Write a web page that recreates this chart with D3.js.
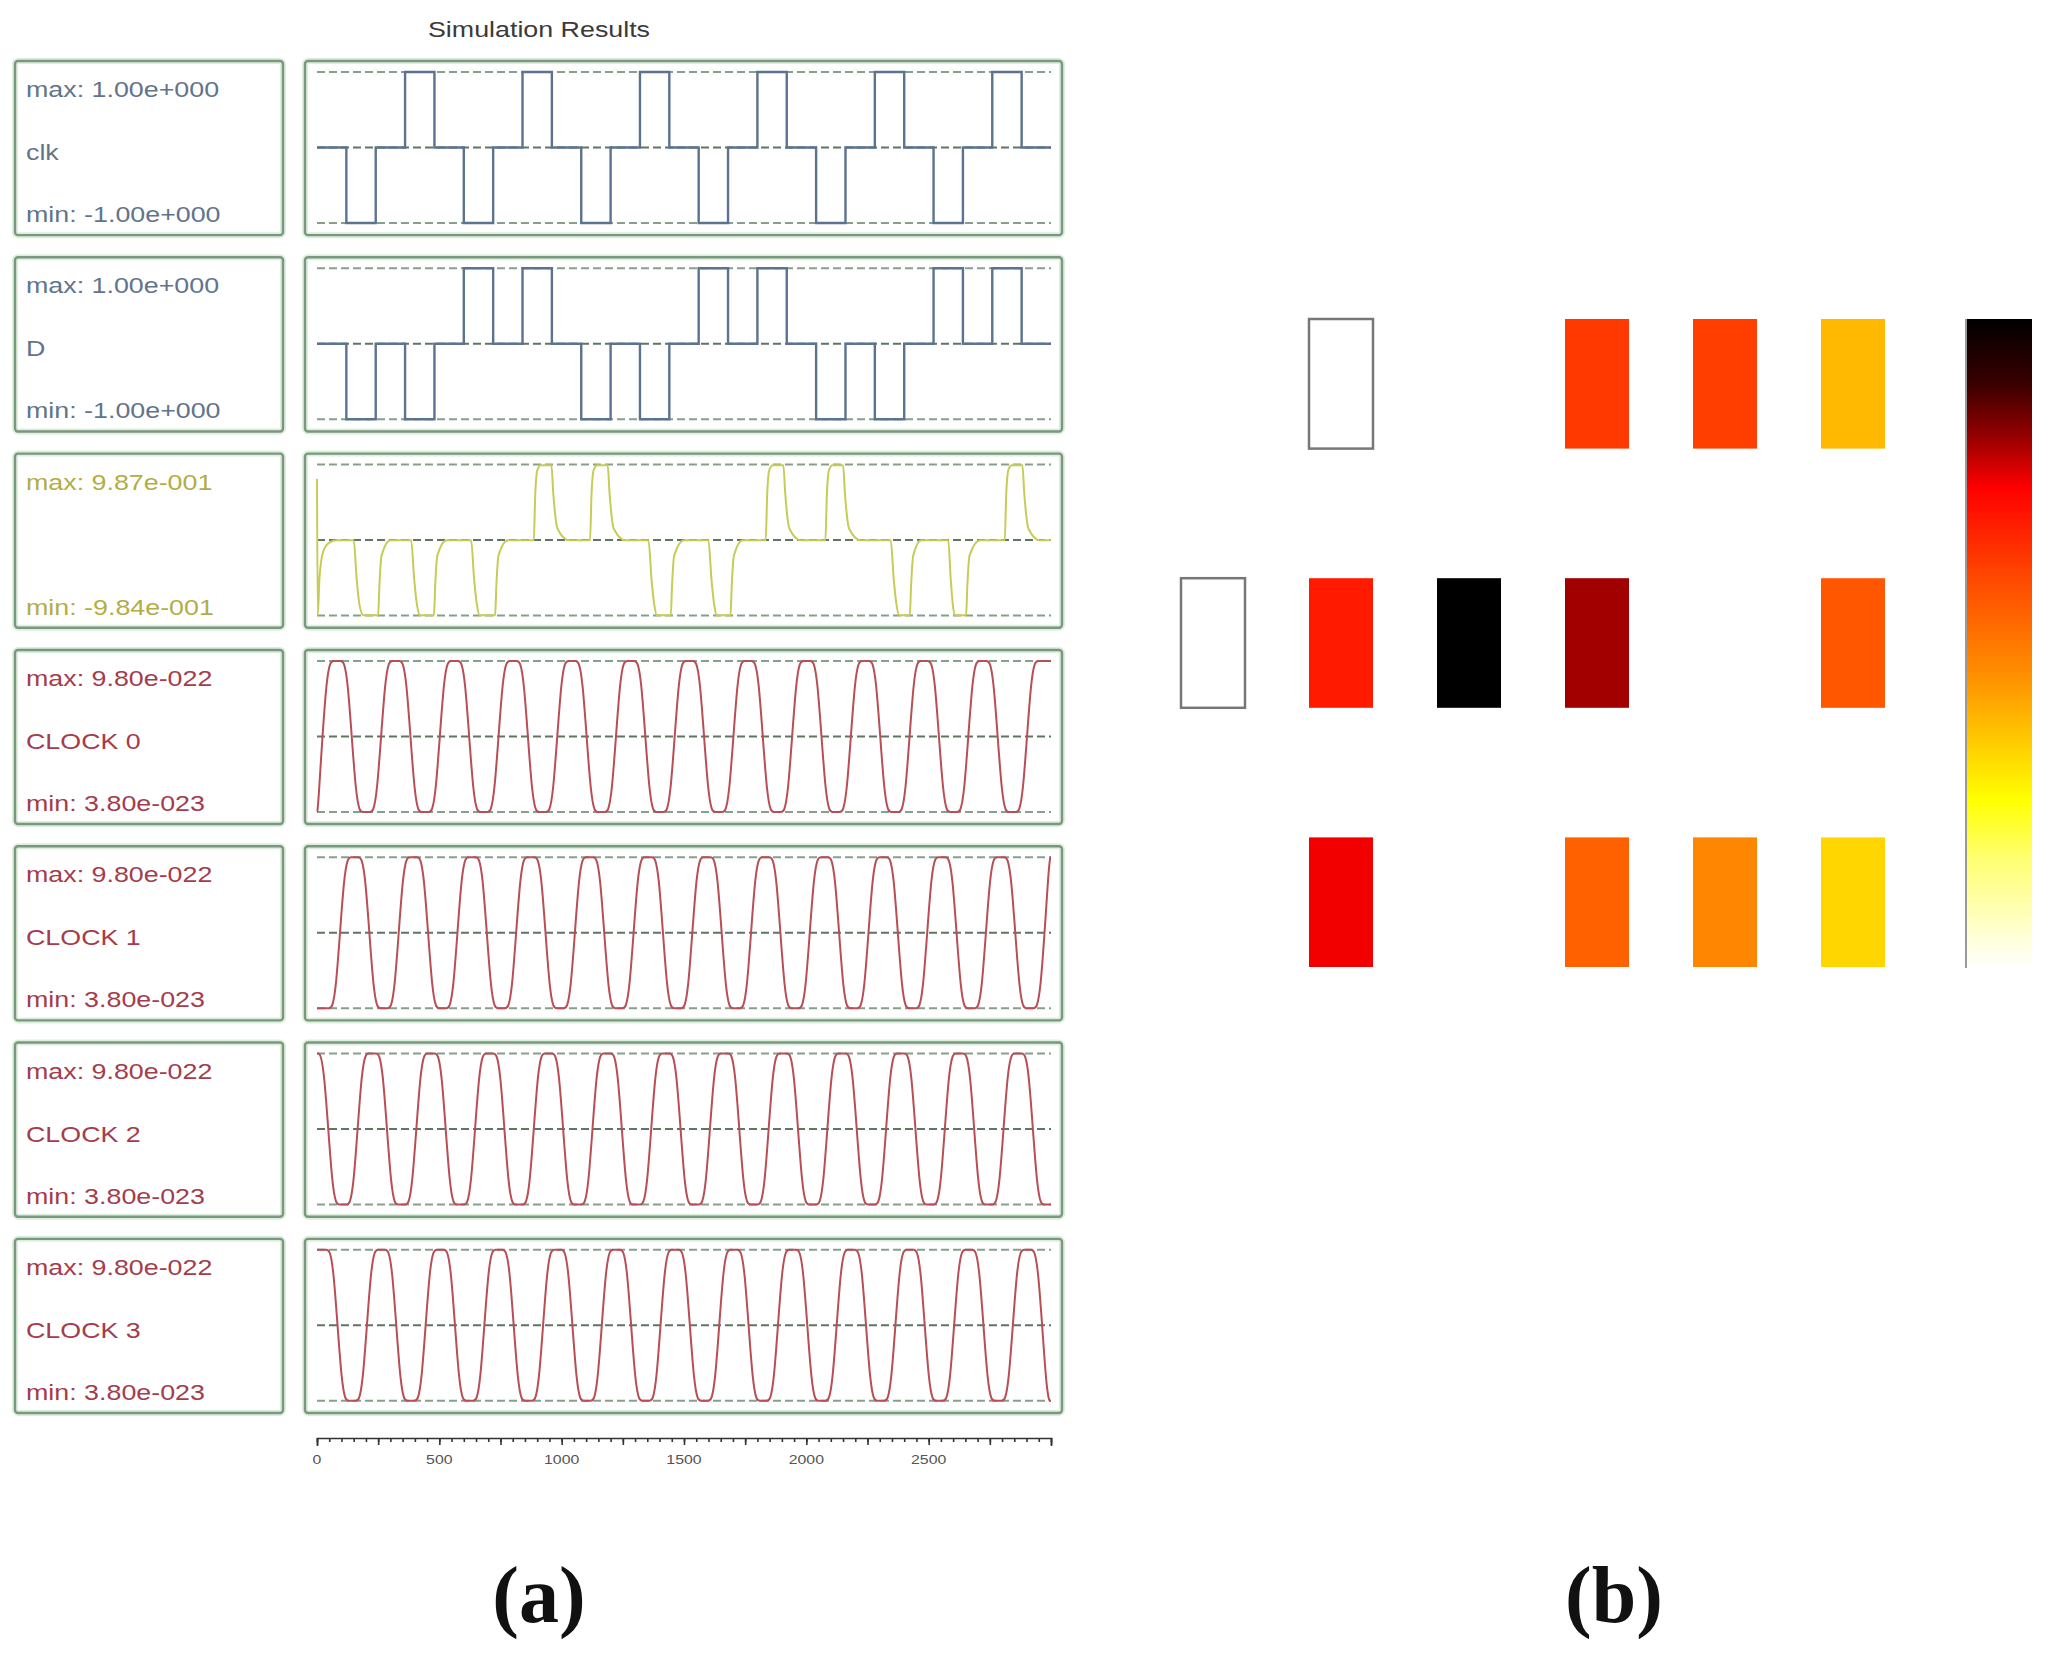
<!DOCTYPE html>
<html>
<head>
<meta charset="utf-8">
<script src="https://cdn.jsdelivr.net/npm/d3@7"></script>
<style>
  body { margin: 0; background: #fff; }
</style>
</head>
<body>
<div id="chart"></div>
<script>
// ---- data ----
// time axis (simulation steps)
const timeDomain = [0, 3000]
const timeTicks = [0, 500, 1000, 1500, 2000, 2500]

// one row per trace
const panelNames = ['clk', 'D', '', 'CLOCK 0', 'CLOCK 1', 'CLOCK 2', 'CLOCK 3']
const panelMaxText = ['max: 1.00e+000', 'max: 1.00e+000', 'max: 9.87e-001',
  'max: 9.80e-022', 'max: 9.80e-022', 'max: 9.80e-022', 'max: 9.80e-022']
const panelMinText = ['min: -1.00e+000', 'min: -1.00e+000', 'min: -9.84e-001',
  'min: 3.80e-023', 'min: 3.80e-023', 'min: 3.80e-023', 'min: 3.80e-023']
// clocks are in units of 1e-22
const panelMin = [-1, -1, -0.984, 0.38, 0.38, 0.38, 0.38]
const panelMax = [1, 1, 0.987, 9.8, 9.8, 9.8, 9.8]

// [time, value] step points
const clkWave = [[0,0],[120,-1],[240,0],[360,1],[480,0],[600,-1],[720,0],[840,1],[960,0],
  [1080,-1],[1200,0],[1320,1],[1440,0],[1560,-1],[1680,0],[1800,1],[1920,0],[2040,-1],
  [2160,0],[2280,1],[2400,0],[2520,-1],[2640,0],[2760,1],[2880,0],[3000,0]]
const dWave = [[0,0],[120,-1],[240,0],[360,-1],[480,0],[600,1],[720,0],[840,1],[960,0],
  [1080,-1],[1200,0],[1320,-1],[1440,0],[1560,1],[1680,0],[1800,1],[1920,0],[2040,-1],
  [2160,0],[2280,-1],[2400,0],[2520,1],[2640,0],[2760,1],[2880,0],[3000,0]]

// [time, value] points of the filtered output
const qWave = [[0,0.8],[3,-0.98],[10,-0.5],[25,-0.15],[50,-0.03],[80,0],
  [150,0],[162,-0.5],[174,-0.85],[190,-0.98],[250,-0.98],[255,-0.6],[264,-0.2],[300,0],
  [385,0],[397,-0.5],[409,-0.85],[421,-0.98],[478,-0.98],[483,-0.6],[492,-0.2],[530,0],
  [630,0],[642,-0.5],[654,-0.85],[665,-0.98],[728,-0.98],[733,-0.6],[742,-0.2],[780,0],
  [886,0],[892,0.6],[901,0.92],[915,0.98],[958,0.98],[966,0.6],[983,0.15],[1030,0],
  [1116,0],[1122,0.6],[1131,0.92],[1145,0.98],[1188,0.98],[1196,0.6],[1213,0.15],[1260,0],
  [1355,0],[1367,-0.5],[1379,-0.85],[1389,-0.98],[1446,-0.98],[1451,-0.6],[1460,-0.2],[1500,0],
  [1600,0],[1612,-0.5],[1624,-0.85],[1633,-0.98],[1690,-0.98],[1695,-0.6],[1704,-0.2],[1740,0],
  [1834,0],[1840,0.6],[1849,0.92],[1863,0.98],[1906,0.98],[1914,0.6],[1931,0.15],[1978,0],
  [2078,0],[2084,0.6],[2093,0.92],[2107,0.98],[2150,0.98],[2158,0.6],[2175,0.15],[2222,0],
  [2345,0],[2357,-0.5],[2369,-0.85],[2380,-0.98],[2423,-0.98],[2428,-0.6],[2437,-0.2],[2470,0],
  [2580,0],[2590,-0.5],[2599,-0.85],[2609,-0.98],[2653,-0.98],[2658,-0.6],[2667,-0.2],[2710,0],
  [2811,0],[2817,0.6],[2826,0.92],[2839,0.98],[2883,0.98],[2891,0.6],[2908,0.15],[2954,0],[3000,0]]

// clock points [time, value x1e-22], four per plateau (one cycle per line)
const HI = 9.8, LO = 0.38
const clock0 = [[0,LO],[4,LO],
  [40,HI],[68,HI],[96,HI],[124,HI],[160,LO],[188,LO],[216,LO],[244,LO],
  [280,HI],[308,HI],[336,HI],[364,HI],[400,LO],[428,LO],[456,LO],[484,LO],
  [520,HI],[548,HI],[576,HI],[604,HI],[640,LO],[668,LO],[696,LO],[724,LO],
  [760,HI],[788,HI],[816,HI],[844,HI],[880,LO],[908,LO],[936,LO],[964,LO],
  [1000,HI],[1028,HI],[1056,HI],[1084,HI],[1120,LO],[1148,LO],[1176,LO],[1204,LO],
  [1240,HI],[1268,HI],[1296,HI],[1324,HI],[1360,LO],[1388,LO],[1416,LO],[1444,LO],
  [1480,HI],[1508,HI],[1536,HI],[1564,HI],[1600,LO],[1628,LO],[1656,LO],[1684,LO],
  [1720,HI],[1748,HI],[1776,HI],[1804,HI],[1840,LO],[1868,LO],[1896,LO],[1924,LO],
  [1960,HI],[1988,HI],[2016,HI],[2044,HI],[2080,LO],[2108,LO],[2136,LO],[2164,LO],
  [2200,HI],[2228,HI],[2256,HI],[2284,HI],[2320,LO],[2348,LO],[2376,LO],[2404,LO],
  [2440,HI],[2468,HI],[2496,HI],[2524,HI],[2560,LO],[2588,LO],[2616,LO],[2644,LO],
  [2680,HI],[2708,HI],[2736,HI],[2764,HI],[2800,LO],[2828,LO],[2856,LO],[2884,LO],
  [2920,HI],[2948,HI],[2976,HI],[3000,HI]]
const clock1 = [[0,LO],[20,LO],[48,LO],[76,LO],
  [112,HI],[140,HI],[168,HI],[196,HI],[232,LO],[260,LO],[288,LO],[316,LO],
  [352,HI],[380,HI],[408,HI],[436,HI],[472,LO],[500,LO],[528,LO],[556,LO],
  [592,HI],[620,HI],[648,HI],[676,HI],[712,LO],[740,LO],[768,LO],[796,LO],
  [832,HI],[860,HI],[888,HI],[916,HI],[952,LO],[980,LO],[1008,LO],[1036,LO],
  [1072,HI],[1100,HI],[1128,HI],[1156,HI],[1192,LO],[1220,LO],[1248,LO],[1276,LO],
  [1312,HI],[1340,HI],[1368,HI],[1396,HI],[1432,LO],[1460,LO],[1488,LO],[1516,LO],
  [1552,HI],[1580,HI],[1608,HI],[1636,HI],[1672,LO],[1700,LO],[1728,LO],[1756,LO],
  [1792,HI],[1820,HI],[1848,HI],[1876,HI],[1912,LO],[1940,LO],[1968,LO],[1996,LO],
  [2032,HI],[2060,HI],[2088,HI],[2116,HI],[2152,LO],[2180,LO],[2208,LO],[2236,LO],
  [2272,HI],[2300,HI],[2328,HI],[2356,HI],[2392,LO],[2420,LO],[2448,LO],[2476,LO],
  [2512,HI],[2540,HI],[2568,HI],[2596,HI],[2632,LO],[2660,LO],[2688,LO],[2716,LO],
  [2752,HI],[2780,HI],[2808,HI],[2836,HI],[2872,LO],[2900,LO],[2928,LO],[2956,LO],
  [2992,HI],[3000,HI]]
const clock2 = [[0,HI],[28,HI],[64,LO],[92,LO],[120,LO],[148,LO],
  [184,HI],[212,HI],[240,HI],[268,HI],[304,LO],[332,LO],[360,LO],[388,LO],
  [424,HI],[452,HI],[480,HI],[508,HI],[544,LO],[572,LO],[600,LO],[628,LO],
  [664,HI],[692,HI],[720,HI],[748,HI],[784,LO],[812,LO],[840,LO],[868,LO],
  [904,HI],[932,HI],[960,HI],[988,HI],[1024,LO],[1052,LO],[1080,LO],[1108,LO],
  [1144,HI],[1172,HI],[1200,HI],[1228,HI],[1264,LO],[1292,LO],[1320,LO],[1348,LO],
  [1384,HI],[1412,HI],[1440,HI],[1468,HI],[1504,LO],[1532,LO],[1560,LO],[1588,LO],
  [1624,HI],[1652,HI],[1680,HI],[1708,HI],[1744,LO],[1772,LO],[1800,LO],[1828,LO],
  [1864,HI],[1892,HI],[1920,HI],[1948,HI],[1984,LO],[2012,LO],[2040,LO],[2068,LO],
  [2104,HI],[2132,HI],[2160,HI],[2188,HI],[2224,LO],[2252,LO],[2280,LO],[2308,LO],
  [2344,HI],[2372,HI],[2400,HI],[2428,HI],[2464,LO],[2492,LO],[2520,LO],[2548,LO],
  [2584,HI],[2612,HI],[2640,HI],[2668,HI],[2704,LO],[2732,LO],[2760,LO],[2788,LO],
  [2824,HI],[2852,HI],[2880,HI],[2908,HI],[2944,LO],[2972,LO],[3000,LO]]
const clock3 = [[0,HI],[10,HI],[38,HI],[66,HI],
  [102,LO],[130,LO],[158,LO],[186,LO],[222,HI],[250,HI],[278,HI],[306,HI],
  [342,LO],[370,LO],[398,LO],[426,LO],[462,HI],[490,HI],[518,HI],[546,HI],
  [582,LO],[610,LO],[638,LO],[666,LO],[702,HI],[730,HI],[758,HI],[786,HI],
  [822,LO],[850,LO],[878,LO],[906,LO],[942,HI],[970,HI],[998,HI],[1026,HI],
  [1062,LO],[1090,LO],[1118,LO],[1146,LO],[1182,HI],[1210,HI],[1238,HI],[1266,HI],
  [1302,LO],[1330,LO],[1358,LO],[1386,LO],[1422,HI],[1450,HI],[1478,HI],[1506,HI],
  [1542,LO],[1570,LO],[1598,LO],[1626,LO],[1662,HI],[1690,HI],[1718,HI],[1746,HI],
  [1782,LO],[1810,LO],[1838,LO],[1866,LO],[1902,HI],[1930,HI],[1958,HI],[1986,HI],
  [2022,LO],[2050,LO],[2078,LO],[2106,LO],[2142,HI],[2170,HI],[2198,HI],[2226,HI],
  [2262,LO],[2290,LO],[2318,LO],[2346,LO],[2382,HI],[2410,HI],[2438,HI],[2466,HI],
  [2502,LO],[2530,LO],[2558,LO],[2586,LO],[2622,HI],[2650,HI],[2678,HI],[2706,HI],
  [2742,LO],[2770,LO],[2798,LO],[2826,LO],[2862,HI],[2890,HI],[2918,HI],[2946,HI],
  [2982,LO],[3000,LO]]

// panel (b): grid cells [row, col, value], value 1 = black end of the colour bar
const heatRowIds = [0, 1, 2]
const heatColIds = [0, 1, 2, 3, 4, 5]
const heatCells = [[0,1,0],[0,3,0.63],[0,4,0.62],[0,5,0.38],
  [1,0,0],[1,1,0.69],[1,2,1],[1,3,0.81],[1,5,0.57],
  [2,1,0.75],[2,3,0.55],[2,4,0.47],[2,5,0.33]]
const heatStops = [0, 0.17, 0.26, 0.45, 0.6, 0.74, 0.82, 0.9, 1]
const heatStopColors = ['#ffffff', '#ffff70', '#ffff00', '#ff9000', '#ff4800', '#ff0000', '#950000', '#3a0000', '#000000']

// ---- drawing ----
const W = 2052, H = 1659
const svg = d3.select('#chart').append('svg')
    .attr('width', W).attr('height', H)
svg.append('rect').attr('width', W).attr('height', H).attr('fill', '#fff')

const series = [clkWave, dWave, qWave, clock0, clock1, clock2, clock3]
const lineColor = ['#5b7290', '#5b7290', '#c6cc55', '#b84e56', '#b84e56', '#b84e56', '#b84e56']
const textColor = ['#62748c', '#62748c', '#b3ad45', '#a53c4b', '#a53c4b', '#a53c4b', '#a53c4b']
const curves = [d3.curveStepAfter, d3.curveStepAfter, d3.curveMonotoneX,
  d3.curveBasis, d3.curveBasis, d3.curveBasis, d3.curveBasis]
const sx = 1.22 // the figure is stretched sideways

const x = d3.scaleLinear().domain(timeDomain).range([317, 1051])
const panelY = d3.scaleBand().domain(d3.range(panelNames.length))
    .range([61, 1413]).paddingInner(0.113)

function stretchedText(g, tx, ty, str, size, color, anchor) {
  return g.append('text')
      .attr('transform', `translate(${tx},${ty}) scale(${sx},1)`)
      .attr('text-anchor', anchor || 'start')
      .style('font-family', '"Liberation Sans", Arial, sans-serif')
      .attr('font-size', size)
      .attr('fill', color)
      .text(str)
}

// title
stretchedText(svg, 539, 37, 'Simulation Results', 22, '#3a3a3a', 'middle')

panelNames.forEach(function(name, i) {
  var top = panelY(i), h = panelY.bandwidth()
  var g = svg.append('g')

  // boxes with a pale green halo
  ;[[15, 268], [305, 757]].forEach(function(b) {
    g.append('rect').attr('x', b[0]).attr('y', top).attr('width', b[1]).attr('height', h)
        .attr('rx', 3).attr('fill', '#fff').attr('stroke', '#dcefdc').attr('stroke-width', 6)
    g.append('rect').attr('x', b[0]).attr('y', top).attr('width', b[1]).attr('height', h)
        .attr('rx', 3).attr('fill', 'none').attr('stroke', '#7c977f').attr('stroke-width', 2.4)
  })

  stretchedText(g, 26, top + 36, panelMaxText[i], 22, textColor[i])
  stretchedText(g, 26, top + 99, name, 22, textColor[i])
  stretchedText(g, 26, top + 161, panelMinText[i], 22, textColor[i])

  var y = d3.scaleLinear().domain([panelMin[i], panelMax[i]]).range([top + 162, top + 11])
  var mid = (panelMin[i] + panelMax[i]) / 2

  ;[panelMax[i], panelMin[i], mid].forEach(function(v, k) {
    g.append('line')
        .attr('x1', x(timeDomain[0])).attr('x2', x(timeDomain[1]))
        .attr('y1', y(v)).attr('y2', y(v))
        .attr('stroke', k === 2 ? '#5f7663' : '#86a08c')
        .attr('stroke-width', 2)
        .attr('stroke-dasharray', '8,4')
  })

  var line = d3.line()
      .x(function(d) { return x(d[0]) })
      .y(function(d) { return y(d[1]) })
      .curve(curves[i])

  g.append('path')
      .datum(series[i])
      .attr('d', line)
      .attr('fill', 'none')
      .attr('stroke', lineColor[i])
      .attr('stroke-width', i < 2 ? 2.4 : 2)
})

// time axis, ruler style
var axisG = svg.append('g').attr('transform', 'translate(0,1438)')
axisG.call(d3.axisBottom(x).tickValues(d3.range(0, 3001, 50)).tickSize(4).tickSizeOuter(8).tickFormat(''))
axisG.selectAll('path, line').attr('stroke', '#333').attr('stroke-width', 1.6)
var majorG = svg.append('g').attr('transform', 'translate(0,1438)')
majorG.call(d3.axisBottom(x).tickValues(d3.range(0, 3001, 250)).tickSize(7).tickSizeOuter(0).tickFormat(''))
majorG.select('.domain').remove()
majorG.selectAll('line').attr('stroke', '#333').attr('stroke-width', 1.6)
timeTicks.forEach(function(t) {
  stretchedText(svg, x(t), 1464, String(t), 13, '#555', 'middle')
})

// ---- panel (b) ----
var colX = d3.scaleBand().domain(heatColIds).range([1181, 1885]).paddingInner(0.5)
var rowY = d3.scaleBand().domain(heatRowIds).range([319, 967]).paddingInner(0.5)
var heat = d3.scaleLinear().domain(heatStops).range(heatStopColors)

svg.append('g').selectAll('rect').data(heatCells).enter().append('rect')
    .attr('x', function(d) { return colX(d[1]) })
    .attr('y', function(d) { return rowY(d[0]) })
    .attr('width', colX.bandwidth())
    .attr('height', rowY.bandwidth())
    .attr('fill', function(d) { return heat(d[2]) })
    .attr('stroke', function(d) { return d[2] === 0 ? '#777' : 'none' })
    .attr('stroke-width', 2.5)

// colour bar
var barY = d3.scaleLinear().domain([0, 1]).range([968, 319])
var grad = svg.append('defs').append('linearGradient')
    .attr('id', 'heatGrad').attr('x1', 0).attr('x2', 0).attr('y1', 1).attr('y2', 0)
grad.selectAll('stop').data(heatStops).enter().append('stop')
    .attr('offset', function(d) { return d })
    .attr('stop-color', function(d) { return heat(d) })
svg.append('rect').attr('x', 1967).attr('y', barY(1)).attr('width', 65)
    .attr('height', barY(0) - barY(1)).attr('fill', 'url(#heatGrad)')
svg.append('line').attr('x1', 1966).attr('x2', 1966).attr('y1', barY(1)).attr('y2', barY(0))
    .attr('stroke', '#999').attr('stroke-width', 2)

// sub-figure labels
;[['(a)', 539], ['(b)', 1614]].forEach(function(l) {
  svg.append('text').attr('x', l[1]).attr('y', 1622)
      .attr('text-anchor', 'middle')
      .style('font-family', '"Liberation Serif", "Times New Roman", serif')
      .style('font-weight', 'bold').style('font-size', '80px')
      .attr('fill', '#111')
      .text(l[0])
})
</script>
</body>
</html>
